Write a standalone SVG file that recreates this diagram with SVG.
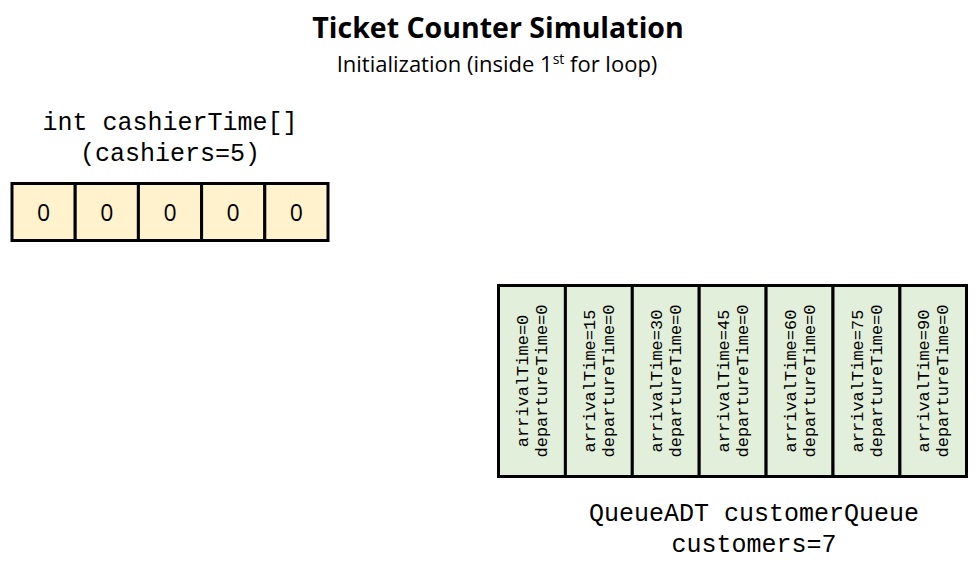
<svg xmlns="http://www.w3.org/2000/svg" width="980" height="580" viewBox="0 0 980 580">
<style>
.title{font-family:"Open Sans","Noto Sans",sans-serif;font-weight:bold;font-size:28.5px;fill:#000;text-anchor:middle}
.sub{font-family:"Open Sans","Noto Sans",sans-serif;font-size:22px;fill:#000;text-anchor:middle}
.mono{font-family:"Liberation Mono","Courier New",monospace;font-size:25px;fill:#000;text-anchor:middle}
.cell{fill:#FFF2CC;stroke:#000;stroke-width:3}
.qcell{fill:#E2EFDA;stroke:#000;stroke-width:3}
.num{font-family:"Open Sans","Noto Sans",sans-serif;font-size:23px;fill:#000;text-anchor:middle}
.vt{font-family:"Liberation Mono","Courier New",monospace;font-size:17px;fill:#000;text-anchor:middle}
</style>
<rect width="980" height="580" fill="#fff"/>
<g id="title">
<text class="title" x="498" y="38">Ticket Counter Simulation</text>
<text class="sub" x="497" y="72">Initialization (inside 1<tspan font-size="14" dy="-8">st</tspan><tspan dy="8"> for loop)</tspan></text>
</g>
<g id="cashierTime">
<text class="mono" x="170" y="130">int cashierTime[]</text>
<text class="mono" x="170" y="161">(cashiers=5)</text>
<rect class="cell" x="12" y="183.5" width="63.2" height="57"/>
<rect class="cell" x="75.2" y="183.5" width="63.2" height="57"/>
<rect class="cell" x="138.4" y="183.5" width="63.2" height="57"/>
<rect class="cell" x="201.6" y="183.5" width="63.2" height="57"/>
<rect class="cell" x="264.8" y="183.5" width="63.2" height="57"/>
<text class="num" x="43.6" y="221">0</text>
<text class="num" x="106.8" y="221">0</text>
<text class="num" x="170" y="221">0</text>
<text class="num" x="233.2" y="221">0</text>
<text class="num" x="296.4" y="221">0</text>
</g>
<g id="customerQueue">
<rect class="qcell" x="498.5" y="285.5" width="66.9" height="191"/>
<rect class="qcell" x="565.4" y="285.5" width="66.9" height="191"/>
<rect class="qcell" x="632.3" y="285.5" width="66.9" height="191"/>
<rect class="qcell" x="699.2" y="285.5" width="66.9" height="191"/>
<rect class="qcell" x="766.1" y="285.5" width="66.9" height="191"/>
<rect class="qcell" x="833" y="285.5" width="66.9" height="191"/>
<rect class="qcell" x="899.9" y="285.5" width="66.6" height="191"/>
<g transform="translate(532,381) rotate(-90)"><text class="vt" y="-4">arrivalTime=0</text><text class="vt" y="15">departureTime=0</text></g>
<g transform="translate(598.9,381) rotate(-90)"><text class="vt" y="-4">arrivalTime=15</text><text class="vt" y="15">departureTime=0</text></g>
<g transform="translate(665.8,381) rotate(-90)"><text class="vt" y="-4">arrivalTime=30</text><text class="vt" y="15">departureTime=0</text></g>
<g transform="translate(732.7,381) rotate(-90)"><text class="vt" y="-4">arrivalTime=45</text><text class="vt" y="15">departureTime=0</text></g>
<g transform="translate(799.6,381) rotate(-90)"><text class="vt" y="-4">arrivalTime=60</text><text class="vt" y="15">departureTime=0</text></g>
<g transform="translate(866.5,381) rotate(-90)"><text class="vt" y="-4">arrivalTime=75</text><text class="vt" y="15">departureTime=0</text></g>
<g transform="translate(933.3,381) rotate(-90)"><text class="vt" y="-4">arrivalTime=90</text><text class="vt" y="15">departureTime=0</text></g>
<text class="mono" x="754" y="521">QueueADT customerQueue</text>
<text class="mono" x="754" y="552">customers=7</text>
</g>
</svg>
